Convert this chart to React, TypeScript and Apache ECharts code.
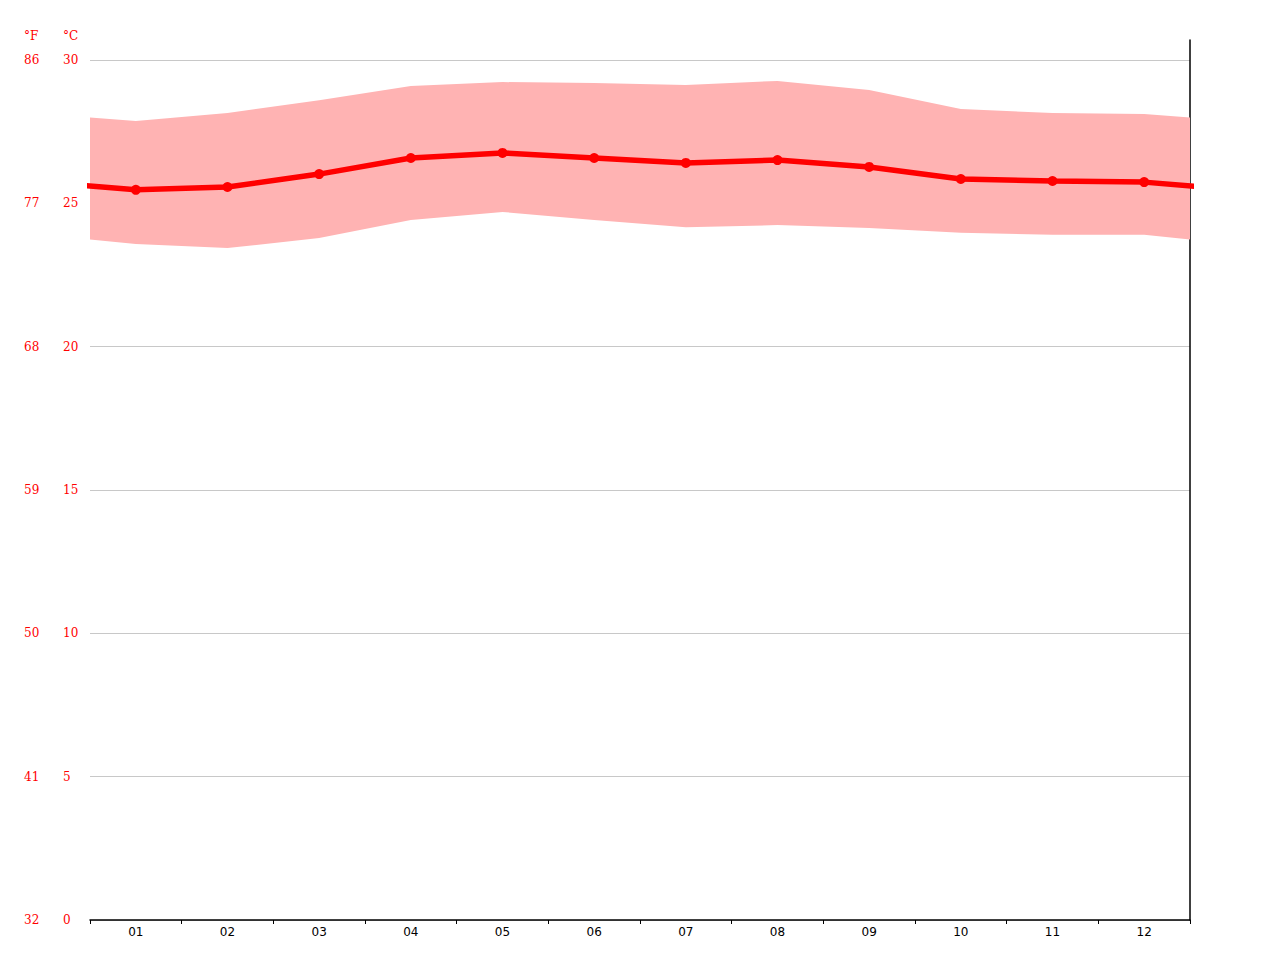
import { useEffect, useRef } from 'react'
import * as echarts from 'echarts'

const months = ['01', '02', '03', '04', '05', '06', '07', '08', '09', '10', '11', '12']
// °C
const meanTemp = [25.47, 25.57, 26.02, 26.58, 26.76, 26.58, 26.41, 26.51, 26.27, 25.85, 25.78, 25.74]
const maxTemp = [27.87, 28.15, 28.6, 29.09, 29.23, 29.2, 29.13, 29.27, 28.95, 28.29, 28.15, 28.12]
const minTemp = [23.58, 23.44, 23.79, 24.42, 24.7, 24.42, 24.17, 24.24, 24.14, 23.97, 23.9, 23.9]
const celsiusTicks = [0, 5, 10, 15, 20, 25, 30]

// wrap Dec before Jan and Jan after Dec so the curves run to the edges
const wrap = (arr: number[]) => {
  const out: [number, number][] = [[0, arr[arr.length - 1]]]
  arr.forEach((v, i) => out.push([i + 1, v]))
  out.push([arr.length + 1, arr[0]])
  return out
}

export default function App() {
  const ref = useRef<HTMLDivElement>(null)

  useEffect(() => {
    if (!ref.current) return
    const chart = echarts.init(ref.current, undefined, { renderer: 'svg' })
    const lowW = wrap(minTemp)
    const highW = wrap(maxTemp)
    const bandData = lowW.map(([x, lo], i) => [x, lo, highW[i][1]])
    const meanW = wrap(meanTemp).map(([x, v], i, a) =>
      i === 0 || i === a.length - 1 ? { value: [x, v], symbol: 'none' } : { value: [x, v] })

    const labelFont = { color: '#ff0000', fontSize: 12, fontFamily: 'DejaVu Serif' }

    chart.setOption({
      animation: false,
      backgroundColor: '#fff',
      grid: [
        { left: 90, right: 90, top: 60, bottom: 40 },
        { left: 90, right: 90, top: 40, bottom: 40 },
      ],
      xAxis: [
        {
          type: 'category', gridIndex: 0, data: months, boundaryGap: true,
          axisLine: { lineStyle: { color: '#000', width: 1.5 } },
          axisTick: { show: true, length: 4, lineStyle: { color: '#000' } },
          axisLabel: { color: '#000', fontSize: 12, fontFamily: 'DejaVu Sans', margin: 6 },
          splitLine: { show: false },
        },
        { type: 'value', gridIndex: 0, min: 0.5, max: 12.5, show: false },
        { type: 'value', gridIndex: 1, min: 0, max: 1, show: false },
      ],
      yAxis: [
        {
          type: 'value', gridIndex: 0, min: celsiusTicks[0], max: celsiusTicks[celsiusTicks.length - 1], interval: 5,
          axisLine: { show: false }, axisTick: { show: false },
          axisLabel: { ...labelFont, align: 'left', margin: 27 },
          splitLine: { lineStyle: { color: '#c8c8c8', width: 1 } },
        },
        {
          type: 'value', gridIndex: 0, min: 0, max: 30, interval: 5, position: 'left',
          axisLine: { show: false }, axisTick: { show: false },
          axisLabel: { ...labelFont, align: 'left', margin: 66, formatter: (v: number) => String(Math.round(v * 9 / 5 + 32)) },
          splitLine: { show: false },
        },
        {
          type: 'value', gridIndex: 1, min: 0, max: 1, position: 'right',
          axisLine: { show: true, onZero: false, lineStyle: { color: '#000', width: 1.5 } },
          axisTick: { show: false }, axisLabel: { show: false }, splitLine: { show: false },
        },
      ],
      graphic: [
        { type: 'text', left: 24, top: 30, style: { text: '°F', fill: '#ff0000', font: '12px "DejaVu Serif"' } },
        { type: 'text', left: 63, top: 30, style: { text: '°C', fill: '#ff0000', font: '12px "DejaVu Serif"' } },
      ],
      series: [
        {
          type: 'custom', xAxisIndex: 1, yAxisIndex: 0, data: bandData, clip: true, silent: true, z: 1,
          renderItem: (params: any, api: any) => {
            if (params.dataIndex !== 0) return null
            const top = bandData.map((d) => api.coord([d[0], d[2]]))
            const bottom = bandData.map((d) => api.coord([d[0], d[1]])).reverse()
            return { type: 'polygon', shape: { points: [...top, ...bottom] }, style: { fill: '#ffb3b3' } }
          },
        },
        {
          type: 'line', xAxisIndex: 1, yAxisIndex: 0, data: meanW, z: 3,
          symbol: 'circle', symbolSize: 10, itemStyle: { color: '#ff0000' },
          lineStyle: { color: '#ff0000', width: 5.5, cap: 'butt' },
        },
        { type: 'line', xAxisIndex: 2, yAxisIndex: 2, data: [], silent: true },
      ],
    })
    return () => chart.dispose()
  }, [])

  return <div ref={ref} style={{ position: 'absolute', left: 0, top: 0, width: 1280, height: 960 }} />
}
